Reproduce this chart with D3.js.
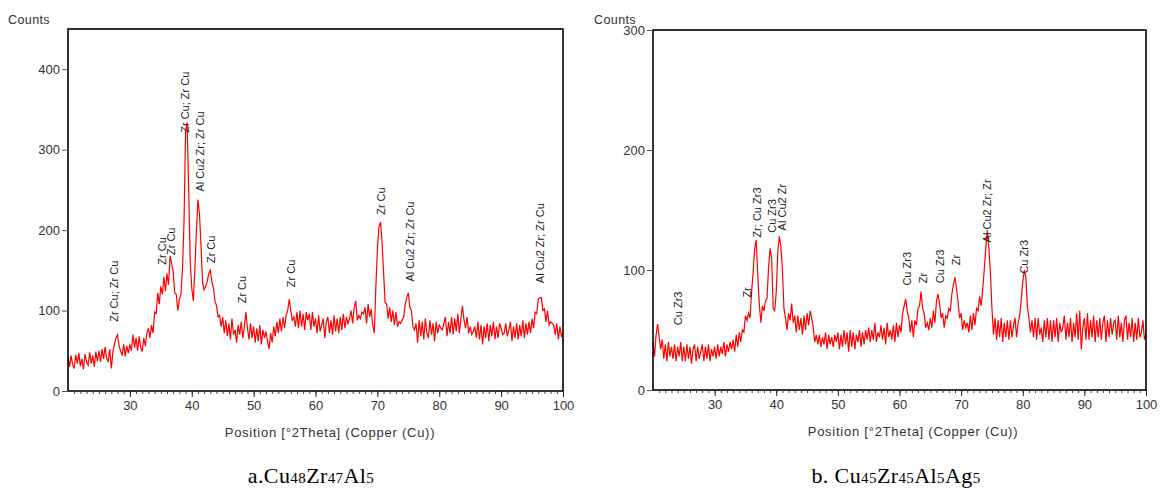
<!DOCTYPE html>
<html><head><meta charset="utf-8">
<script src="https://cdn.jsdelivr.net/npm/d3@7"></script>
<style>body{margin:0;background:#fff}svg{display:block}</style>
</head><body>
<svg id="c" width="1162" height="490"></svg>
<script>
// ---- data ----
const thetaStart = 20, thetaStep = 0.25;
const countsA = [
42,30,44,33,28,45,34,47,31,40,27,46,36,32,48,34,44,30,49,37,
50,36,52,40,55,41,36,52,28,48,58,66,70,56,50,44,58,43,56,47,
58,50,70,54,66,50,68,54,49,66,56,72,78,66,82,72,98,96,122,108,
130,120,142,124,146,132,168,158,148,122,120,100,114,120,152,210,322,334,252,162,
128,112,150,198,238,220,180,134,126,130,136,146,150,136,128,112,106,92,94,80,
92,72,88,68,84,64,90,70,76,60,82,70,86,66,80,98,78,64,84,66,
80,60,78,62,82,58,76,66,74,62,52,72,60,80,68,86,72,90,74,92,
78,94,100,114,100,88,92,80,98,78,100,80,96,76,98,88,96,76,98,80,
90,72,94,74,82,90,66,86,92,72,88,70,94,74,90,72,92,76,96,78,
92,84,90,100,84,104,112,88,94,90,98,96,104,84,108,92,102,82,72,128,
176,204,210,186,148,110,108,90,104,86,100,82,98,80,86,84,88,92,108,116,
122,104,100,80,76,84,60,88,68,86,64,90,72,66,88,70,84,62,86,72,
82,78,76,84,92,68,86,72,92,70,90,74,96,72,90,106,88,78,92,72,
80,70,74,80,66,86,64,82,58,80,66,84,62,82,68,86,64,80,66,84,
78,70,72,84,68,76,86,62,80,66,84,64,82,68,88,66,84,70,86,72,
90,78,98,96,114,116,116,100,102,86,100,82,86,84,82,70,84,64,80,68,
72];
const countsB = [
40,28,46,55,44,34,42,26,38,24,40,28,36,26,38,24,36,28,40,24,
36,24,38,26,36,22,34,38,24,36,26,32,38,24,36,26,38,24,34,28,
36,26,38,28,36,30,40,28,38,32,40,34,42,32,46,36,48,40,50,48,
62,58,64,60,82,98,118,125,96,72,56,70,66,74,76,102,118,110,68,66,
82,115,128,120,100,68,60,50,64,58,72,56,62,48,62,50,60,46,62,50,
64,54,66,60,52,40,46,38,46,36,44,38,48,34,46,38,44,36,46,40,
48,34,46,36,50,38,48,32,50,36,48,34,46,40,50,36,48,38,50,42,
52,40,50,42,56,40,48,44,54,42,52,38,56,44,50,42,54,40,56,44,
54,48,64,70,76,66,60,48,58,44,58,54,68,70,82,68,64,52,56,50,
60,52,66,56,74,80,72,60,64,52,62,60,68,66,80,88,94,84,74,60,
64,50,58,52,56,48,62,50,64,54,68,66,78,70,84,100,118,133,118,98,
68,46,60,42,58,44,60,40,56,44,58,42,58,44,54,60,44,56,62,75,
90,100,94,70,60,48,58,44,60,42,60,46,52,40,58,44,60,42,58,40,
58,44,60,40,56,48,52,62,42,56,44,60,40,56,44,64,42,66,34,52,
60,42,64,42,58,44,62,40,58,44,60,42,56,62,40,58,44,60,46,56,
58,42,62,44,56,40,58,62,42,56,44,60,40,56,42,60,44,48,58,42,
46];
const xDomain = [20, 100];
const xTicks = [30,40,50,60,70,80,90,100];
const xMinorTicks = d3.range(21, 100, 1);
const yTicksA = [0,100,200,300,400];
const yTicksB = [0,100,200,300];
const yMaxA = 450, yMaxB = 300;
const labelsA = [
  [27.4, 86, "Zr Cu; Zr Cu"],
  [35.2, 157, "Zr Cu"],
  [36.6, 169, "Zr Cu"],
  [39.0, 321, "Zr Cu; Zr Cu"],
  [41.4, 248, "Al Cu2 Zr; Zr Cu"],
  [43.2, 159, "Zr Cu"],
  [48.2, 109, "Zr Cu"],
  [56.1, 129, "Zr Cu"],
  [70.6, 219, "Zr Cu"],
  [75.3, 136, "Al Cu2 Zr; Zr Cu"],
  [96.3, 134, "Al Cu2 Zr; Zr Cu"]
];
const labelsB = [
  [24.0, 54, "Cu Zr3"],
  [35.3, 77, "Zr"],
  [36.9, 127, "Zr; Cu Zr3"],
  [39.4, 131, "Cu Zr3"],
  [41.0, 133, "Al Cu2 Zr"],
  [61.3, 87, "Cu Zr3"],
  [63.9, 89, "Zr"],
  [66.6, 89, "Cu Zr3"],
  [69.2, 104, "Zr"],
  [74.2, 123, "Al Cu2 Zr; Zr"],
  [80.3, 97, "Cu Zr3"]
];
const xTitle = "Position [°2Theta] (Copper (Cu))";
const yTitle = "Counts";
const captionA = [["a.Cu",0],["48",1],["Zr",0],["47",1],["Al",0],["5",1]];
const captionB = [["b. Cu",0],["45",1],["Zr",0],["45",1],["Al",0],["5",1],["Ag",0],["5",1]];

// ---- drawing ----
const svg = d3.select("#c");
const sans = "'Liberation Sans', Arial, sans-serif";

function panel(cfg) {
  const {counts, yMax, yTicks, labels, box, caption, countsPos, captionX, titleX} = cfg;
  const x = d3.scaleLinear().domain(xDomain).range([box.l, box.r]);
  const y = d3.scaleLinear().domain([0, yMax]).range([box.b, box.t]);
  const g = svg.append("g");
  const pts = counts.map((c, i) => [thetaStart + i * thetaStep, c]);

  // curve
  g.append("path").datum(pts)
    .attr("fill", "none").attr("stroke", "#ff0000").attr("stroke-width", 1.2)
    .attr("stroke-linejoin", "miter")
    .attr("d", d3.line().x(d => x(d[0])).y(d => y(d[1])));

  // frame
  g.append("rect").attr("x", box.l).attr("y", box.t)
    .attr("width", box.r - box.l).attr("height", box.b - box.t)
    .attr("fill", "none").attr("stroke", "#000").attr("stroke-width", 1.6);

  // y axis
  const ya = g.append("g").attr("transform", `translate(${box.l},0)`)
    .call(d3.axisLeft(y).tickValues(yTicks).tickSize(6).tickPadding(2).tickFormat(d3.format("d")));
  ya.select(".domain").remove();
  ya.selectAll("line").attr("stroke", "#555");
  ya.selectAll("text").attr("font-family", sans).attr("font-size", 13).attr("fill", "#333");

  // x minor ticks
  const xm = g.append("g").attr("transform", `translate(0,${box.b})`)
    .call(d3.axisBottom(x).tickValues(xMinorTicks).tickSize(3).tickFormat(""));
  xm.select(".domain").remove();
  xm.selectAll("line").attr("stroke", "#444");
  // x major
  const xa = g.append("g").attr("transform", `translate(0,${box.b})`)
    .call(d3.axisBottom(x).tickValues(xTicks).tickSize(6).tickPadding(4));
  xa.select(".domain").remove();
  xa.selectAll("line").attr("stroke", "#222");
  xa.selectAll("text").attr("font-family", sans).attr("font-size", 13).attr("fill", "#333");

  // peak labels
  g.selectAll("text.pk").data(labels).enter().append("text")
    .attr("class", "pk")
    .attr("transform", d => `translate(${x(d[0])},${y(d[1])}) rotate(-90)`)
    .attr("dy", "0.35em")
    .attr("font-family", sans).attr("font-size", 11).attr("fill", "#222")
    .text(d => d[2]);

  // titles
  svg.append("text").attr("x", countsPos[0]).attr("y", countsPos[1])
    .attr("font-family", sans).attr("font-size", 12.5).attr("letter-spacing", 0.4)
    .attr("fill", "#333").text(yTitle);
  svg.append("text").attr("x", titleX).attr("y", box.b + 46)
    .attr("text-anchor", "middle").attr("letter-spacing", 0.75)
    .attr("font-family", sans).attr("font-size", 13).attr("fill", "#333").text(xTitle);

  // caption
  const cap = svg.append("text").attr("x", captionX).attr("y", 483)
    .attr("text-anchor", "middle").attr("letter-spacing", 0.4)
    .attr("font-family", "'Liberation Serif', 'Times New Roman', serif")
    .attr("font-size", 22).attr("fill", "#000");
  caption.forEach(([t, sub]) => {
    cap.append("tspan").attr("font-size", sub ? 15 : 22).text(t);
  });
}

panel({counts: countsA, yMax: yMaxA, yTicks: yTicksA, labels: labelsA,
  box: {l: 68, r: 563, t: 29, b: 391}, caption: captionA,
  countsPos: [8, 24], captionX: 311, titleX: 330});
panel({counts: countsB, yMax: yMaxB, yTicks: yTicksB, labels: labelsB,
  box: {l: 653, r: 1146, t: 30, b: 390}, caption: captionB,
  countsPos: [594, 24], captionX: 896, titleX: 913});
</script>
</body></html>
